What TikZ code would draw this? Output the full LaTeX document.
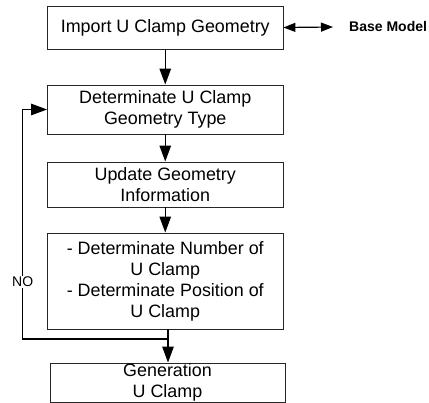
\documentclass[tikz,border=0pt]{standalone}
\usepackage{fontspec}
\setmainfont{Liberation Sans}
\usetikzlibrary{arrows.meta}
\begin{document}
\begin{tikzpicture}[x=1pt,y=-1pt,
  stepbox/.style={draw=black!85, line width=0.9pt, inner sep=0pt, align=center,
    font=\fontsize{17.9}{21}\selectfont},
  conn/.style={line width=1.3pt},
  flow/.style={conn, -{Triangle[length=16pt,width=11.5pt]}},
  both/.style={line width=1.2pt, {Triangle[length=12pt,width=9pt]}-{Triangle[length=12pt,width=9pt]}},
]
\useasboundingbox (0,0) rectangle (429,403);

% process steps
\node[stepbox, minimum width=235.5pt, minimum height=43pt] (imp) at (165.25,27.5) {Import U Clamp Geometry};
\node[stepbox, minimum width=235.5pt, minimum height=49pt] (typ) at (165.25,109.5) {Determinate U Clamp\\Geometry Type};
\node[stepbox, minimum width=235.5pt, minimum height=45pt] (upd) at (165.25,184.5) {Update Geometry\\Information};
\node[stepbox, minimum width=235.5pt, minimum height=96pt] (num) at (165.25,281) {- Determinate Number of\\U Clamp\\- Determinate Position of\\U Clamp};
\node[stepbox, minimum width=235pt, minimum height=39pt] (gen) at (167.5,382.5) {Generation\\U Clamp};

% external model
\node[anchor=west, inner sep=0pt, font=\bfseries\fontsize{14}{16}\selectfont] (base) at (349,26.5) {Base Model};
\coordinate (bm) at (333,27);
\draw[both] (imp.east) -- (bm);

% main flow
\draw[flow] (imp) -- (typ);
\draw[flow] (typ) -- (upd);
\draw[flow] (upd) -- (num);
\coordinate (j) at (168,339);
\coordinate (lc) at (22.7,339);
\draw[conn] (num.south -| j) -- (j);
\draw[flow] (j) -- (gen.north -| j);

% feedback loop
\draw[flow] (j) -- (lc) |- (typ.west);
\node[fill=white, inner sep=1pt, font=\fontsize{14}{16}\selectfont] (no) at (22.7,282) {NO};
\end{tikzpicture}
\end{document}
